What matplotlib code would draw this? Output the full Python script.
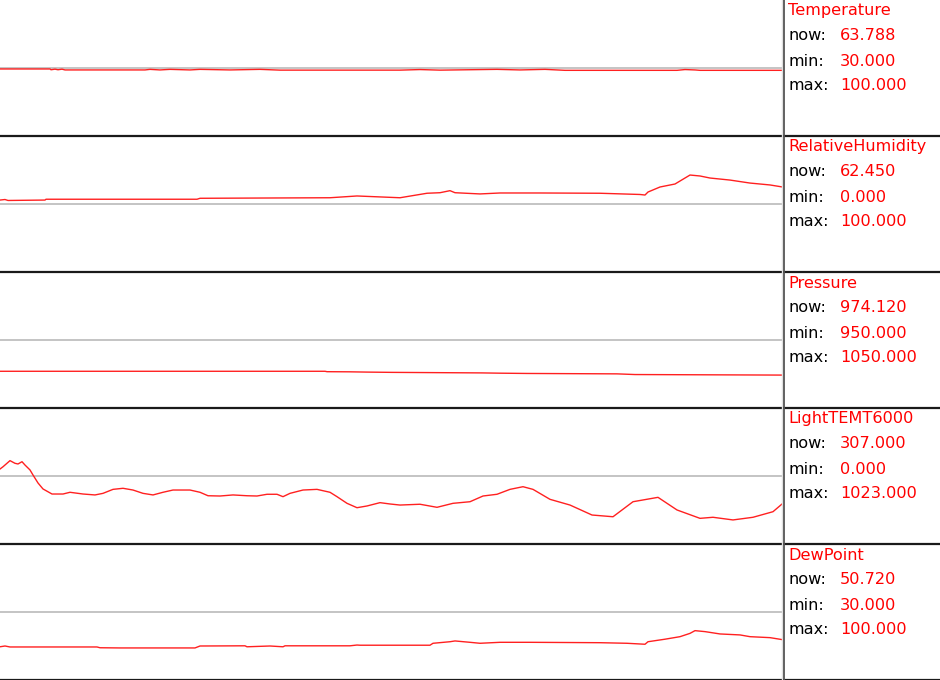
import matplotlib
matplotlib.use("Agg")
import matplotlib.pyplot as plt
from matplotlib.lines import Line2D

# ---------------------------------------------
# sensor data (x = sample position)
# ---------------------------------------------

names = ["Temperature", "RelativeHumidity", "Pressure", "LightTEMT6000", "DewPoint"]
now_vals = [63.788, 62.450, 974.120, 307.000, 50.720]
min_vals = [30.0, 0.0, 950.0, 0.0, 30.0]
max_vals = [100.0, 100.0, 1050.0, 1023.0, 100.0]

temp_x = [0, 50, 51, 55, 58, 62, 65, 145, 150, 160, 170, 190, 200, 230, 260, 280,
          400, 420, 440, 497, 520, 545, 565, 677, 685, 695, 700, 783]
temp_y = [64.5, 64.5, 64.1, 64.4, 64.1, 64.4, 64.0, 64.0, 64.3, 64.0, 64.3, 64.0,
          64.3, 64.0, 64.3, 63.9, 63.9, 64.2, 63.9, 64.3, 64.0, 64.3, 63.8, 63.8,
          64.2, 64.0, 63.8, 63.8]

rh_x = [0, 5, 8, 45, 46, 197, 200, 330, 357, 400, 427, 440, 450, 455, 480, 500,
        540, 600, 640, 645, 648, 660, 675, 690, 700, 710, 730, 750, 770, 783]
rh_y = [52.9, 53.3, 52.6, 52.9, 53.5, 53.5, 54.2, 54.6, 55.9, 54.6, 57.9, 58.3,
        59.8, 58.3, 57.4, 58.1, 58.1, 57.9, 57.0, 56.6, 58.8, 62.5, 64.7, 71.3,
        70.6, 69.1, 67.6, 65.4, 64.0, 62.45]

pres_x = [0, 325, 327, 350, 367, 392, 437, 482, 500, 527, 617, 635, 783]
pres_y = [977.0, 977.0, 976.7, 976.6, 976.4, 976.2, 976.0, 975.8, 975.6, 975.4,
          975.1, 974.6, 974.2]

light_x = [0, 3, 10, 15, 18, 22, 25, 30, 33, 38, 43, 52, 63, 70, 83, 95, 103, 113,
           123, 133, 143, 153, 163, 173, 190, 200, 208, 220, 233, 247, 257, 267,
           277, 283, 290, 303, 317, 330, 337, 347, 357, 367, 380, 390, 400, 420,
           437, 453, 470, 483, 497, 510, 523, 533, 550, 570, 592, 613, 633, 658,
           677, 700, 713, 733, 753, 773, 783]
light_y = [564, 581, 627, 607, 602, 619, 594, 557, 519, 459, 414, 376, 376, 389,
           376, 369, 381, 411, 419, 406, 381, 369, 389, 406, 406, 389, 363, 361,
           369, 363, 361, 374, 374, 356, 381, 406, 411, 389, 356, 306, 273, 286,
           311, 301, 293, 299, 276, 306, 318, 361, 374, 411, 431, 411, 336, 293,
           218, 205, 318, 351, 256, 193, 201, 181, 201, 243, 307]

dew_x = [0, 5, 10, 97, 100, 120, 195, 200, 245, 247, 270, 283, 285, 350, 357, 360,
         430, 433, 450, 455, 470, 480, 500, 530, 600, 627, 645, 648, 665, 680, 690,
         695, 705, 720, 740, 750, 770, 783]
dew_y = [47.1, 47.5, 47.0, 47.0, 46.6, 46.5, 46.5, 47.5, 47.6, 47.1, 47.5, 47.1,
         47.6, 47.6, 48.0, 47.9, 47.9, 48.9, 49.7, 50.1, 49.4, 48.9, 49.4, 49.4,
         49.2, 48.9, 48.4, 49.7, 51.0, 52.3, 54.0, 55.4, 54.9, 53.7, 53.2, 52.3,
         51.8, 50.72]

series_x = [temp_x, rh_x, pres_x, light_x, dew_x]
series_y = [temp_y, rh_y, pres_y, light_y, dew_y]

# ---------------------------------------------
# layout (pixels -> figure fractions)
# ---------------------------------------------

W, H = 940, 680
plot_w = 783
panel_h = 136

fig = plt.figure(figsize=(W / 100, H / 100), dpi=100)
fig.patch.set_facecolor("white")

for k in range(5):
    bottom = 1 - (k + 1) * panel_h / H
    ax = fig.add_axes([0, bottom, plot_w / W, panel_h / H])
    ax.set_xlim(0, plot_w)
    ax.set_ylim(min_vals[k], max_vals[k])
    ax.axis("off")

    mid = (min_vals[k] + max_vals[k]) / 2
    ax.axhline(mid, color="#c4c4c4", lw=1.4, zorder=1)
    ax.plot(series_x[k], series_y[k], color="#ff2020", lw=1.0, zorder=2)

    # text block on the right
    top_px = k * panel_h
    tx = 788 / W
    vx = 840 / W
    rows = [11, 36, 61, 86]
    fig.text(tx, 1 - (top_px + rows[0]) / H, names[k], color="#ff0000",
             fontsize=11.6, va="center", ha="left")
    labels = ["now:", "min:", "max:"]
    vals = [now_vals[k], min_vals[k], max_vals[k]]
    for lab, v, r in zip(labels, vals, rows[1:]):
        fig.text(tx, 1 - (top_px + r) / H, lab, color="black",
                 fontsize=11.6, va="center", ha="left")
        fig.text(vx, 1 - (top_px + r) / H, f"{v:.3f}", color="#ff0000",
                 fontsize=11.6, va="center", ha="left")

# separators
for k in range(1, 6):
    y = 1 - (k * panel_h - 0.5) / H
    fig.add_artist(Line2D([0, 1], [y, y], color="#1a1a1a", lw=1.6,
                          transform=fig.transFigure))

fig.add_artist(Line2D([(plot_w - 1.5) / W] * 2, [0, 1], color="#e0e0e0", lw=1.0,
                      transform=fig.transFigure))
fig.add_artist(Line2D([(plot_w + 0.5) / W] * 2, [0, 1], color="#555555", lw=1.3,
                      transform=fig.transFigure))

fig.savefig("out.png", dpi=100, facecolor="white")
